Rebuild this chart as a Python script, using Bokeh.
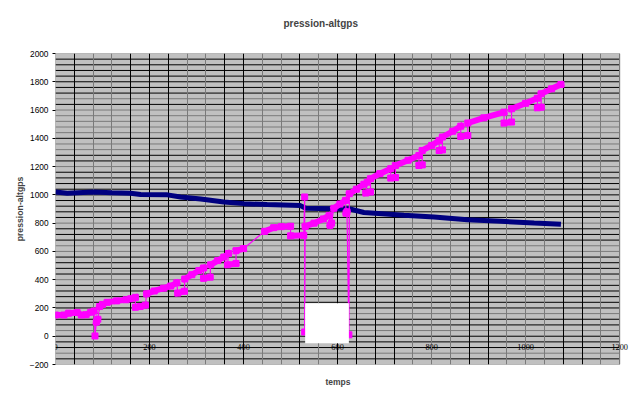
from itertools import groupby

from bokeh.plotting import figure
from bokeh.models import ColumnDataSource, FixedTicker, Grid, LabelSet, Range1d, Title
from bokeh.embed import file_html
from bokeh.resources import INLINE

# ---------------- data ----------------
title_text = "pression-altgps"
x_label = "temps"
y_label = "pression-altgps"

x_min, x_max = 0, 1200
y_min, y_max = -200, 2000
x_ticks = [0, 200, 400, 600, 800, 1000, 1200]
x_tick_labels = ["0", "200", "400", "600", "800", "1000", "1200"]
y_ticks = [-200, 0, 200, 400, 600, 800, 1000, 1200, 1400, 1600, 1800, 2000]

# pressure series (dark blue)
press_t = [0, 25, 81, 120, 160, 181, 238, 266, 309, 358, 401, 450, 521, 532,
           592, 624, 656, 741, 805, 876, 947, 1018, 1075]
press_v = [1020, 1012, 1020, 1015, 1012, 1003, 1000, 985, 970, 950, 938, 931, 924, 905,
           902, 902, 875, 855, 843, 824, 813, 801, 792]

# GPS altitude series (magenta); alt_run groups consecutive samples of one plateau
alt_t = [0, 18, 28, 46, 55, 65, 75, 82,
         84,
         87, 90,
         94, 100, 110, 130, 150, 160, 170,
         170, 180, 191,
         194, 210, 230, 245, 258,
         260, 274,
         275, 290, 305, 315,
         315, 329,
         330, 345, 358, 368,
         366, 384,
         384, 400,
         445, 464, 480, 500,
         500, 528,
         530,
         530,
         531, 550, 570, 582,
         584, 587,
         592, 605, 617,
         618, 620,
         624,
         625, 640, 656, 663,
         660, 670,
         670, 690, 713,
         713, 723,
         723, 750, 773,
         773, 780,
         780, 800, 816,
         816, 823,
         823, 845, 862,
         862, 877,
         877, 911, 954,
         954, 970,
         970, 1000, 1025,
         1025, 1033,
         1033, 1055, 1075]
alt_v = [150, 150, 163, 168, 150, 152, 170, 178,
         2,
         100, 120,
         210, 225, 240, 250, 258, 265, 275,
         205, 210, 220,
         300, 320, 340, 355, 378,
         305, 318,
         405, 435, 465, 483,
         410, 418,
         505, 535, 560, 585,
         505, 515,
         605, 620,
         742, 768, 775, 778,
         710, 714,
         985,
         30,
         777, 800, 830, 855,
         785, 800,
         905, 935, 961,
         870, 880,
         10,
         1008, 1040, 1075, 1090,
         1013, 1020,
         1114, 1150, 1185,
         1119, 1122,
         1208, 1245, 1279,
         1208, 1212,
         1314, 1350, 1385,
         1314, 1318,
         1409, 1450, 1486,
         1413, 1420,
         1508, 1545, 1585,
         1508, 1515,
         1609, 1648, 1684,
         1616, 1620,
         1715, 1750, 1781]
alt_run = [1, 1, 1, 1, 1, 1, 1, 1,
           2,
           3, 3,
           4, 4, 4, 4, 4, 4, 4,
           5, 5, 5,
           6, 6, 6, 6, 6,
           7, 7,
           8, 8, 8, 8,
           9, 9,
           10, 10, 10, 10,
           11, 11,
           12, 12,
           13, 13, 13, 13,
           14, 14,
           15,
           16,
           17, 17, 17, 17,
           18, 18,
           19, 19, 19,
           20, 20,
           21,
           22, 22, 22, 22,
           23, 23,
           24, 24, 24,
           25, 25,
           26, 26, 26,
           27, 27,
           28, 28, 28,
           29, 29,
           30, 30, 30,
           31, 31,
           32, 32, 32,
           33, 33,
           34, 34, 34,
           35, 35,
           36, 36, 36]

# blank (white) patch in the picture
blank_t = [531, 624]
blank_v = [-50, 233]

# gridline values (40-unit grid, rendered black or grey)
grid_x_all = list(range(0, 1201, 40))
grid_x_dark = [0, 40, 160, 200, 240, 360, 400, 520, 600, 640, 680, 720, 880, 920, 1080, 1120]
grid_y_all = list(range(-200, 2001, 40))
grid_y_dark = [1960, 1920, 1880, 1840, 1800, 1760, 1720, 1640, 1400, 1280, 1240, 1160, 1120,
               1080, 1040, 1000, 960, 920, 880, 840, 760, 720, 680, 560, 520, 480, 440, 360,
               320, 280, 240, 200, 120, 80, 0, -40, -80, -160]
grid_x_light = [v for v in grid_x_all if v not in grid_x_dark]
grid_y_light = [v for v in grid_y_all if v not in grid_y_dark and y_min < v < y_max]

FONT = "Liberation Sans"
MAGENTA = "#FF00FF"
NAVY = "#000080"
PLOT_GREY = "#C0C0C0"
GRID_GREY = "#7a7a7a"

# ---------------- figure ----------------
# frame runs a little past x_max so that the last tick label is not clipped
p = figure(width=640, height=398,
           x_range=Range1d(x_min, 1240), y_range=Range1d(y_min, y_max),
           output_backend="svg", toolbar_location=None,
           x_axis_location=None,
           min_border_left=55, min_border_right=2,
           min_border_top=53, min_border_bottom=34)
p.background_fill_color = "white"
p.border_fill_color = "white"
p.outline_line_color = None

# title (two-line box so that it sits higher above the frame)
p.add_layout(Title(text=title_text + "\n ", text_font=FONT, text_font_size="10px",
                   text_font_style="bold", align="left", offset=228, standoff=23,
                   vertical_align="top"), "above")
# x axis title below the frame
p.add_layout(Title(text=x_label, text_font=FONT, text_font_size="8.5px",
                   text_font_style="bold", align="left", offset=270, standoff=20,
                   vertical_align="bottom"), "below")

# y axis
p.yaxis.ticker = FixedTicker(ticks=y_ticks)
p.yaxis.major_label_text_font = FONT
p.yaxis.major_label_text_font_size = "8.3px"
p.yaxis.major_label_text_color = "black"
p.yaxis.major_tick_out = 3
p.yaxis.major_tick_in = 0
p.yaxis.major_tick_line_color = "black"
p.yaxis.minor_tick_line_color = None
p.yaxis.axis_line_color = None
p.yaxis.major_label_standoff = 4
p.yaxis.axis_label = y_label
p.yaxis.axis_label_text_font = FONT
p.yaxis.axis_label_text_font_size = "8.7px"
p.yaxis.axis_label_text_font_style = "bold"
p.yaxis.axis_label_standoff = 2

# grey plot area (drawn beneath the grid)
p.quad(left=[x_min], right=[x_max], bottom=[y_min], top=[y_max],
       fill_color=PLOT_GREY, line_color="#808080", line_width=1, level="image")

# vertical grid lines
p.xgrid.ticker = FixedTicker(ticks=grid_x_dark)
p.xgrid.grid_line_color = "black"
p.add_layout(Grid(dimension=0, ticker=FixedTicker(ticks=grid_x_light),
                  grid_line_color=GRID_GREY, grid_line_width=1), "center")
# horizontal grid lines, limited to the plot area
p.ygrid.visible = False
p.segment(x0=[x_min] * len(grid_y_light), x1=[x_max] * len(grid_y_light),
          y0=grid_y_light, y1=grid_y_light, line_color=GRID_GREY, line_width=1,
          level="underlay")
p.segment(x0=[x_min] * len(grid_y_dark), x1=[x_max] * len(grid_y_dark),
          y0=grid_y_dark, y1=grid_y_dark, line_color="black", line_width=1,
          level="underlay")

# pressure line
p.line(press_t, press_v, line_color=NAVY, line_width=5)

# altitude: thin connecting line, thick plateaus, square markers
p.line(alt_t, alt_v, line_color=MAGENTA, line_width=1.2)
runs_x, runs_y = [], []
for _, grp in groupby(zip(alt_t, alt_v, alt_run), key=lambda r: r[2]):
    g = list(grp)
    runs_x.append([r[0] for r in g])
    runs_y.append([r[1] for r in g])
p.multi_line(runs_x, runs_y, line_color=MAGENTA, line_width=6, line_cap="square")
p.scatter(alt_t, alt_v, marker="square", size=6, fill_color=MAGENTA, line_color=MAGENTA)

# white blank patch
p.quad(left=[blank_t[0]], right=[blank_t[1]], bottom=[blank_v[0]], top=[blank_v[1]],
       fill_color="white", line_color=None)

# x tick labels along the y = 0 line
lab_src = ColumnDataSource(dict(x=x_ticks, y=[0] * len(x_ticks), text=x_tick_labels))
p.add_layout(LabelSet(x="x", y="y", text="text", source=lab_src,
                      text_align="center", text_baseline="top", y_offset=-8,
                      text_font=FONT, text_font_size="8.3px", text_color="black"))

open("out.html", "w").write(file_html(p, INLINE))
